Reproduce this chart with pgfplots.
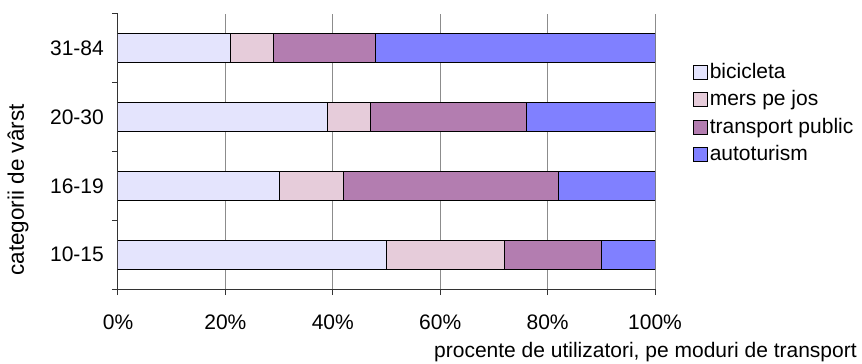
\documentclass[border=0pt]{standalone}
\usepackage{fontspec}
\setmainfont{Liberation Sans}
\usepackage{pgfplots}
\pgfplotsset{compat=1.18}
\definecolor{cBic}{HTML}{E4E4FD}
\definecolor{cMers}{HTML}{E6CCDA}
\definecolor{cTrans}{HTML}{B37DB0}
\definecolor{cAuto}{HTML}{8080FF}
\begin{document}
\fontsize{21}{25}\selectfont
\begin{tikzpicture}
\useasboundingbox (0,0) rectangle (862pt,364pt);
\begin{axis}[
  at={(118pt,75pt)}, anchor=south west,
  scale only axis, width=537pt, height=275pt,
  xbar stacked, bar width=29pt,
  xmin=0, xmax=100, ymin=-0.5, ymax=3.5,
  axis x line=bottom, axis y line=left,
  axis line style={black!80, line width=1pt, -},
  xtick={0,20,40,60,80,100},
  xticklabels={0\%,20\%,40\%,60\%,80\%,100\%},
  xticklabel style={yshift=-13pt},
  ytick={-0.5,0.5,1.5,2.5,3.5},
  yticklabels={},
  extra y ticks={0,1,2,3},
  extra y tick labels={10-15,16-19,20-30,31-84},
  extra y tick style={tick style={draw=none}, yticklabel style={xshift=-1pt}},
  tick align=outside,
  major tick length=6pt,
  tick style={black!80, line width=1pt},
  xmajorgrids, major grid style={gray!90, line width=1pt},
  /pgf/number format/assume math mode=true,
  xlabel={procente de utilizatori, pe moduri de transport},
  xlabel style={at={(axis description cs:1.376,-0.229)}, anchor=east, inner sep=0pt},
  ylabel={categorii de vârst},
  ylabel style={at={(axis description cs:-0.186,0.36)}, anchor=center, inner sep=0pt, font=\fontsize{22.5}{26}\selectfont},
  legend style={at={(axis description cs:1.07,0.638)}, anchor=west, draw=none, fill=none,
    inner sep=0pt, row sep=5pt, font=\fontsize{21}{25}\selectfont,
    /tikz/every even column/.append style={column sep=2pt}},
  legend cell align=left,
  legend image code/.code={\draw[#1, draw=black, line width=1pt] (0pt,-7pt) rectangle (14pt,7pt);},
  every axis plot/.append style={draw=black, line width=1pt},
]
\addplot[fill=cBic] coordinates {(50,0) (30,1) (39,2) (21,3)};
\addplot[fill=cMers] coordinates {(22,0) (12,1) (8,2) (8,3)};
\addplot[fill=cTrans] coordinates {(18,0) (40,1) (29,2) (19,3)};
\addplot[fill=cAuto] coordinates {(10,0) (18,1) (24,2) (52,3)};
\legend{bicicleta, mers pe jos, transport public, autoturism}
\end{axis}
\end{tikzpicture}
\end{document}
